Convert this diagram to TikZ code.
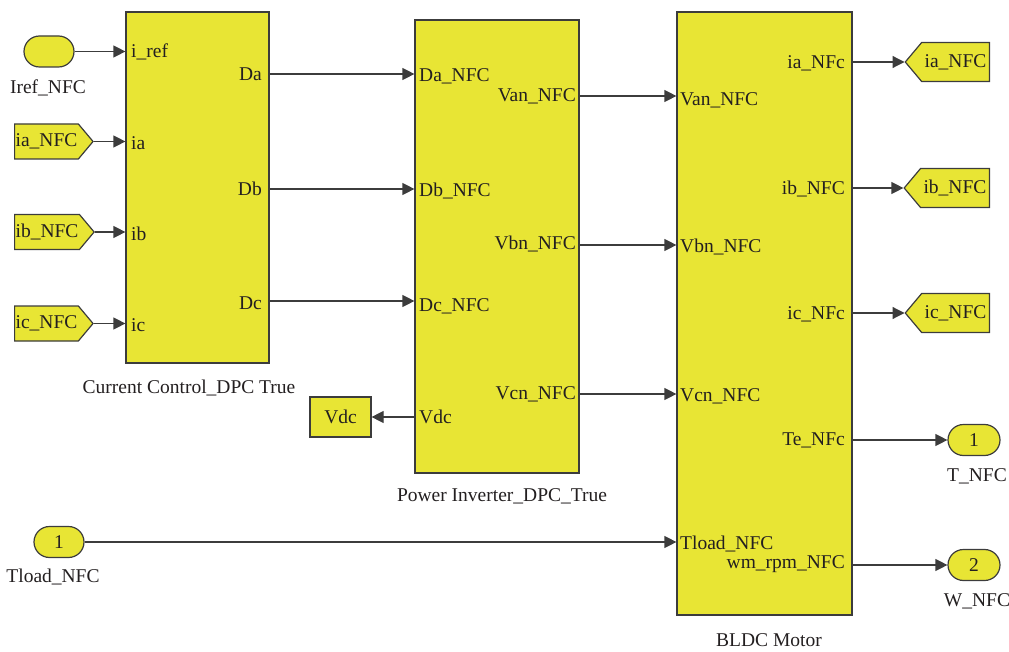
\documentclass[tikz,border=0pt]{standalone}
\usepackage{fontspec}
\setmainfont{Liberation Serif}
\usetikzlibrary{shapes.misc,shapes.symbols,arrows.meta}
\definecolor{simyellow}{RGB}{232,229,52}
\definecolor{simline}{RGB}{60,60,60}
\definecolor{simtext}{RGB}{35,31,32}
\begin{document}
\begin{tikzpicture}[x=1pt, y=-1pt,
    every node/.style={text=simtext, font=\fontsize{19.5}{22}\selectfont, inner sep=0pt},
    block/.style={draw=simline, line width=1.2pt, fill=simyellow},
    pill/.style={rounded rectangle, draw=simline, line width=1.2pt, fill=simyellow, minimum width=50, minimum height=31},
    tagin/.style={signal, signal to=east, signal pointer angle=100, draw=simline, line width=1.2pt, fill=simyellow, minimum height=35, inner xsep=1pt, anchor=west},
    tagout/.style={signal, signal to=west, signal pointer angle=100, draw=simline, line width=1.2pt, fill=simyellow, minimum height=39, inner xsep=3pt, anchor=east},
    sig/.style={draw=simline, line width=1.2pt, -{Triangle[length=12pt,width=12pt]}}]
\useasboundingbox (0,0) rectangle (1009,652);

% subsystems
\node[block, minimum width=143, minimum height=351] (cc) at (197.5,187.5) {};
\node[block, minimum width=164, minimum height=453] (pi) at (497,246.5) {};
\node[block, minimum width=175, minimum height=603] (bldc) at (764.5,313.5) {};
\node (ccname) at (189,388) {Current Control\_DPC True};
\node (piname) at (502,496) {Power Inverter\_DPC\_True};
\node (bldcname) at (769,640) {BLDC Motor};

% inputs on the left
\node[pill] (iref) at (49,51.5) {};
\node (irefname) at (48,88) {Iref\_NFC};
\node[tagin] (ia) at (14,141.5) {ia\_NFC};
\node[tagin] (ib) at (14,232) {ib\_NFC};
\node[tagin] (ic) at (14,323.5) {ic\_NFC};
\node[pill] (tload) at (59,542) {1};
\node (tloadname) at (53,577) {Tload\_NFC};
\node[block, minimum width=61, minimum height=40] (vdc) at (340.5,417) {Vdc};

% outputs on the right
\node[tagout] (iaout) at (990,62) {ia\_NFC};
\node[tagout] (ibout) at (990,188) {ib\_NFC};
\node[tagout] (icout) at (990,313) {ic\_NFC};
\node[pill, minimum width=52] (tout) at (974,440) {1};
\node (toutname) at (977,476) {T\_NFC};
\node[pill, minimum width=52] (wout) at (974,565) {2};
\node (woutname) at (977,601) {W\_NFC};

% port labels
\foreach \nm/\txt/\yy in {ccref/i\_ref/52, cca/ia/143, ccb/ib/234, ccc/ic/325}
    \node[anchor=west] (\nm) at (131,\yy) {\txt};
\foreach \nm/\txt/\yy in {ccda/Da/74, ccdb/Db/189, ccdc/Dc/303}
    \node[anchor=east] (\nm) at (262,\yy) {\txt};
\foreach \nm/\txt/\yy in {pida/Da\_NFC/76, pidb/Db\_NFC/191, pidc/Dc\_NFC/306, pivdc/Vdc/417}
    \node[anchor=west] (\nm) at (419,\yy) {\txt};
\foreach \nm/\txt/\yy in {pivan/Van\_NFC/96, pivbn/Vbn\_NFC/244, pivcn/Vcn\_NFC/394}
    \node[anchor=east] (\nm) at (576,\yy) {\txt};
\foreach \nm/\txt/\yy in {mvan/Van\_NFC/100, mvbn/Vbn\_NFC/247, mvcn/Vcn\_NFC/396, mtl/Tload\_NFC/544}
    \node[anchor=west] (\nm) at (680,\yy) {\txt};
\foreach \nm/\txt/\yy in {mia/ia\_NFc/63, mib/ib\_NFC/189, mic/ic\_NFc/314, mte/Te\_NFc/440, mwm/wm\_rpm\_NFC/564}
    \node[anchor=east] (\nm) at (845,\yy) {\txt};

% connectors
\draw[sig] (iref.east) -- (iref.east -| cc.west);
\draw[sig] (ia.east) -- (ia.east -| cc.west);
\draw[sig] (ib.east) -- (ib.east -| cc.west);
\draw[sig] (ic.east) -- (ic.east -| cc.west);
\draw[sig] (cc.east |- 0,74) -- (pi.west |- 0,74);
\draw[sig] (cc.east |- 0,189) -- (pi.west |- 0,189);
\draw[sig] (cc.east |- 0,301) -- (pi.west |- 0,301);
\draw[sig] (pi.west |- vdc.east) -- (vdc.east);
\draw[sig] (pi.east |- 0,96) -- (bldc.west |- 0,96);
\draw[sig] (pi.east |- 0,245) -- (bldc.west |- 0,245);
\draw[sig] (pi.east |- 0,394) -- (bldc.west |- 0,394);
\draw[sig] (tload.east) -- (tload.east -| bldc.west);
\draw[sig] (bldc.east |- iaout.west) -- (iaout.west);
\draw[sig] (bldc.east |- ibout.west) -- (ibout.west);
\draw[sig] (bldc.east |- icout.west) -- (icout.west);
\draw[sig] (bldc.east |- tout.west) -- (tout.west);
\draw[sig] (bldc.east |- wout.west) -- (wout.west);
\end{tikzpicture}
\end{document}
